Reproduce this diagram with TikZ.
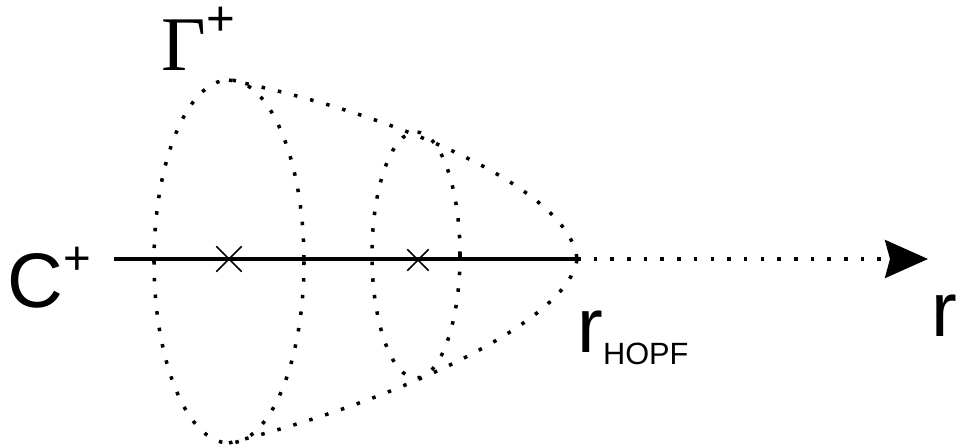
\documentclass[tikz,border=0pt]{standalone}
\usepackage{fontspec}
\setmainfont{Liberation Sans}
\newfontfamily\gammafont{Liberation Serif}
\usetikzlibrary{arrows.meta,shapes.misc}
\tikzset{
  biglabel/.style={inner sep=0pt, anchor=base west, font=\fontsize{44}{44}\selectfont},
  dotline/.style={line width=2pt, line cap=butt, dash pattern=on 2pt off 7.5pt},
  axisline/.style={line width=2.3pt},
  fixpoint/.style={cross out, draw, line width=0.85pt, inner sep=0pt, minimum size=#1},
  axisarrow/.style={-{Stealth[length=0.86cm, width=0.76cm, inset=0.1cm]}}
}
\newcommand{\upplus}[2]{\raisebox{#2}{\fontsize{#1}{#1}\selectfont +}}

\begin{document}
\begin{tikzpicture}[x=0.02cm, y=-0.02cm]
    \useasboundingbox (0,0) rectangle (961,448);
    % axis
    \coordinate (axisstart) at (114,259);
    \coordinate (hopf) at (577,259);
    \coordinate (tip) at (928,259);
    \coordinate (top) at (229,80);
    \coordinate (bottom) at (229,443);
    \draw[axisline] (axisstart) -- (hopf);
    \draw[dotline, axisarrow] (hopf) -- (tip);
    % the two cuts of the surface
    \draw[dotline] (229,261.5) ellipse (75 and 181.5);
    \draw[dotline] (416,255) ellipse (44 and 123);
    \draw[dotline] (top) .. controls (400,115) and (570,190) .. (hopf);
    \draw[dotline] (bottom) .. controls (400,400) and (570,320) .. (hopf);
    \node[fixpoint=0.48cm] (fp1) at (229,259) {};
    \node[fixpoint=0.40cm] (fp2) at (418,260) {};
    % labels
    \node[biglabel] (gamma) at (161,71) {{\gammafont\char"0393}\upplus{28}{20pt}};
    \node[biglabel] (cplus) at (7,308) {C\upplus{27}{19pt}};
    \node[biglabel] (rhopf) at (577,353) {r\raisebox{-0.24cm}{\fontsize{17.5}{17.5}\selectfont HOPF}};
    \node[biglabel] (raxis) at (931,337) {r};
  \end{tikzpicture}
\end{document}
